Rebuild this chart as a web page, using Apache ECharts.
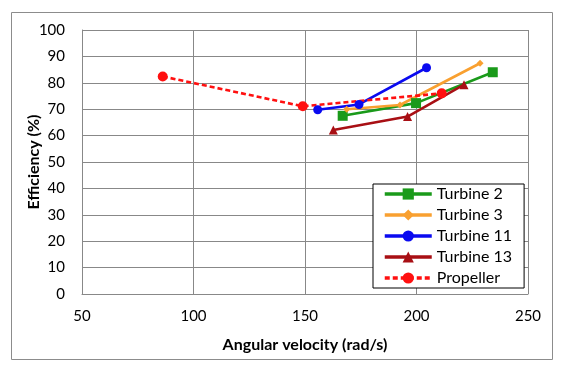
<!DOCTYPE html>
<html><head><meta charset="utf-8">
<script src="https://cdn.jsdelivr.net/npm/echarts@6/dist/echarts.min.js"></script>
<style>html,body{margin:0;padding:0;background:#fff}#c{width:567px;height:374px}</style>
</head><body><div id="c"></div>
<script>
const seriesNames = ['Turbine 2', 'Turbine 3', 'Turbine 11', 'Turbine 13', 'Propeller'];
const turbine2 = [[166.9, 67.5], [199.8, 72.3], [234.2, 84.0]];
const turbine3 = [[168.7, 70.0], [192.6, 71.6], [228.5, 87.4]];
const turbine11 = [[155.7, 69.8], [174.2, 71.8], [204.5, 85.7]];
const turbine13 = [[162.7, 62.1], [196.0, 67.2], [221.3, 79.3]];
const propeller = [[86.2, 82.4], [149.0, 71.1], [211.3, 76.0]];
const xTicks = [50, 100, 150, 200, 250];
const yTicks = [0, 10, 20, 30, 40, 50, 60, 70, 80, 90, 100];

const FONT = 'Lato';
const chart = echarts.init(document.getElementById('c'), null, {renderer: 'canvas'});
function mk(name, data, color, symbol, size, dashed) {
  return {
    name, type: 'line', data, symbol, symbolSize: size, showSymbol: true,
    lineStyle: {color, width: 2.6, type: dashed ? [5, 3] : 'solid'},
    itemStyle: {color},
    animation: false, z: 3
  };
}
chart.setOption({
  backgroundColor: '#fff',
  animation: false,
  textStyle: {fontFamily: FONT},
  graphic: [{type: 'rect', shape: {x: 11.5, y: 12.5, width: 541, height: 347}, style: {fill: 'none', stroke: '#8c8c8c', lineWidth: 1}, silent: true, z: -1}],
  grid: {left: 82, top: 30, right: 39, bottom: 80},
  xAxis: {
    type: 'value', min: xTicks[0], max: xTicks[xTicks.length - 1], interval: 50,
    name: 'Angular velocity (rad/s)', nameLocation: 'middle', nameGap: 43,
    nameTextStyle: {fontFamily: FONT, fontWeight: 'bold', fontSize: 16, color: '#000'},
    axisLine: {show: true, lineStyle: {color: '#888', width: 1}},
    axisTick: {show: false},
    axisLabel: {fontFamily: FONT, fontSize: 15, color: '#000', margin: 15},
    splitLine: {show: true, lineStyle: {color: '#888', width: 1}}
  },
  yAxis: {
    type: 'value', min: yTicks[0], max: yTicks[yTicks.length - 1], interval: 10,
    name: 'Efficiency (%)', nameLocation: 'middle', nameGap: 40, nameMoveOverlap: false,
    nameTextStyle: {fontFamily: FONT, fontWeight: 'bold', fontSize: 16, color: '#000'},
    axisLine: {show: true, lineStyle: {color: '#888', width: 1}},
    axisTick: {show: false},
    axisLabel: {fontFamily: FONT, fontSize: 15, color: '#000', margin: 17},
    splitLine: {show: true, lineStyle: {color: '#888', width: 1}}
  },
  legend: {
    orient: 'vertical', left: 373, top: 184,
    data: seriesNames,
    backgroundColor: '#fff', borderColor: '#000', borderWidth: 1,
    padding: [2, 12, 2, 10],
    itemWidth: 47, itemHeight: 14, itemGap: 5,
    lineStyle: {width: 3.5},
    textStyle: {fontFamily: FONT, fontSize: 16, color: '#000', padding: [0, 0, 0, 0]}
  },
  series: [
    mk(seriesNames[0], turbine2, '#1a9a1a', 'rect', 10, false),
    mk(seriesNames[1], turbine3, '#f9a030', 'diamond', 7, false),
    mk(seriesNames[2], turbine11, '#0a0af0', 'circle', 9, false),
    mk(seriesNames[3], turbine13, '#a80f14', 'triangle', 9, false),
    mk(seriesNames[4], propeller, '#ff1010', 'circle', 10, true)
  ]
});
</script></body></html>
